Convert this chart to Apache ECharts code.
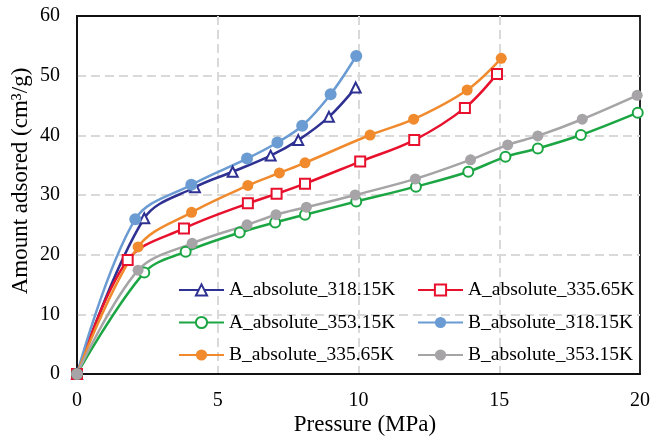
<!DOCTYPE html>
<html>
<head>
<meta charset="utf-8">
<script src="https://cdn.jsdelivr.net/npm/echarts@6/dist/echarts.min.js"></script>
<style>html,body{margin:0;padding:0;background:#fff;}#c{width:653px;height:439px;}</style>
</head>
<body>
<div id="c"></div>
<script>
const xTicks = [0, 5, 10, 15, 20];
const yTicks = [0, 10, 20, 30, 40, 50, 60];

const names = ['A_absolute_318.15K', 'A_absolute_335.65K', 'A_absolute_353.15K',
               'B_absolute_318.15K', 'B_absolute_335.65K', 'B_absolute_353.15K'];

const xA318 = [0, 2.39, 4.19, 5.53, 6.88, 7.86, 8.95, 9.9];
const yA318 = [0, 26.1, 31.3, 33.9, 36.6, 39.2, 43.1, 48.0];

const xA335 = [0, 1.8, 3.8, 6.07, 7.09, 8.1, 10.06, 11.98, 13.78, 14.92];
const yA335 = [0, 19.1, 24.4, 28.6, 30.2, 31.9, 35.6, 39.2, 44.6, 50.3];

const xA353 = [0, 2.39, 3.86, 5.78, 7.04, 8.1, 9.92, 12.04, 13.9, 15.22, 16.37, 17.9, 19.92];
const yA353 = [0, 17.0, 20.5, 23.7, 25.4, 26.7, 28.9, 31.4, 33.9, 36.4, 37.8, 40.05, 43.8];

const xB318 = [0, 2.07, 4.06, 6.04, 7.12, 8.0, 9.01, 9.92];
const yB318 = [0, 25.95, 31.7, 36.1, 38.8, 41.6, 46.9, 53.3];

const xB335 = [0, 2.17, 4.07, 6.07, 7.19, 8.1, 10.41, 11.96, 13.86, 15.07];
const yB335 = [0, 21.3, 27.1, 31.6, 33.7, 35.4, 40.05, 42.7, 47.6, 52.9];

const xB353 = [0, 2.17, 4.09, 6.04, 7.07, 8.15, 9.88, 12.02, 13.98, 15.3, 16.37, 17.95, 19.9];
const yB353 = [0, 17.4, 21.9, 25.0, 26.7, 27.95, 30.0, 32.7, 35.9, 38.4, 39.9, 42.7, 46.7];

const xs = [xA318, xA335, xA353, xB318, xB335, xB353];
const ys = [yA318, yA335, yA353, yB318, yB335, yB353];
const colors = ['#2E3192', '#E8112D', '#1BA643', '#6A9BD2', '#F08A2C', '#A6A4A6'];
const symbols = ['triangle', 'rect', 'circle', 'circle', 'circle', 'circle'];
const hollow = [true, true, true, false, false, false];
const sizes = [10, 10, 10, 12, 11, 11];

const FONT = '"Liberation Serif", "Times New Roman", serif';

const series = names.map((n, i) => ({
  name: n,
  type: 'line',
  smooth: 0.35,
  clip: false,
  data: xs[i].map((x, j) => [x, ys[i][j]]),
  symbol: symbols[i],
  symbolSize: sizes[i],
  lineStyle: { color: colors[i], width: 2.5 },
  itemStyle: hollow[i]
    ? { color: '#fff', borderColor: colors[i], borderWidth: 2 }
    : { color: colors[i], borderColor: colors[i], borderWidth: 0 },
  emphasis: { disabled: true }
}));

const legendCommon = {
  orient: 'vertical',
  padding: 0,
  itemWidth: 45,
  itemHeight: 14,
  itemGap: 12.5,
  textStyle: { fontFamily: FONT, fontSize: 19.5, color: '#000', lineHeight: 20 },
  inactiveColor: '#ccc'
};

const chart = echarts.init(document.getElementById('c'), null, { renderer: 'canvas' });
chart.setOption({
  animation: false,
  backgroundColor: '#fff',
  grid: { left: 77, top: 16, right: 10, bottom: 65, show: true, borderColor: '#111', borderWidth: 1.8, backgroundColor: 'transparent' },
  xAxis: {
    type: 'value', min: xTicks[0], max: xTicks[xTicks.length - 1], interval: 5,
    axisLine: { show: true, onZero: false, lineStyle: { color: '#111', width: 1.8 } },
    axisTick: { show: false },
    axisLabel: { fontFamily: FONT, fontSize: 20, color: '#000', margin: 17 },
    splitLine: { show: true, showMinLine: false, showMaxLine: false, lineStyle: { color: '#D9D9D9', width: 2, type: [9, 5] } }
  },
  yAxis: {
    type: 'value', min: yTicks[0], max: yTicks[yTicks.length - 1], interval: 10,
    axisLine: { show: true, onZero: false, lineStyle: { color: '#111', width: 1.8 } },
    axisTick: { show: false },
    axisLabel: { fontFamily: FONT, fontSize: 20, color: '#000', margin: 17 },
    splitLine: { show: true, showMinLine: false, showMaxLine: false, lineStyle: { color: '#D9D9D9', width: 2, type: [9, 5] } }
  },
  legend: [
    Object.assign({}, legendCommon, { left: 178, top: 280, data: [names[0], names[2], names[4]] }),
    Object.assign({}, legendCommon, { left: 417, top: 280, data: [names[1], names[3], names[5]] })
  ],
  graphic: [
    { type: 'text', x: 365, y: 425, style: { text: 'Pressure (MPa)', font: '23px ' + FONT, fill: '#000', textAlign: 'center', textVerticalAlign: 'middle' } },
    { type: 'text', x: 21, y: 181, rotation: Math.PI / 2, style: { text: 'Amount adsored (cm\u00B3/g)', font: '23px ' + FONT, fill: '#000', textAlign: 'center', textVerticalAlign: 'middle' } }
  ],
  series: series
});
</script>
</body>
</html>
